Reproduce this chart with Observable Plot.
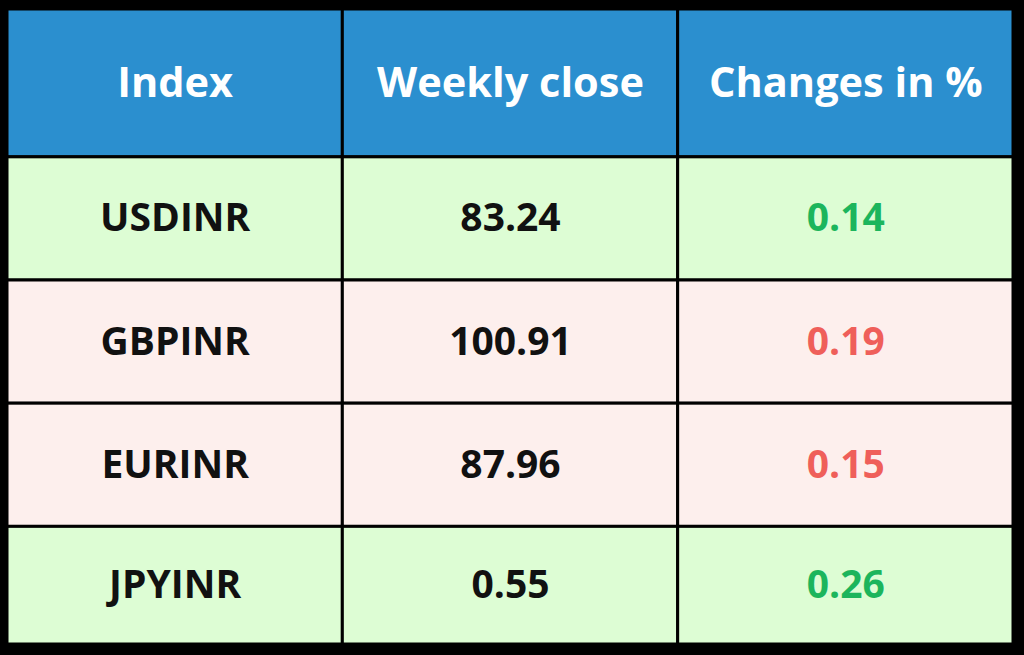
<!DOCTYPE html>
<html><head><meta charset="utf-8">
<script src="https://cdn.jsdelivr.net/npm/d3@7"></script>
<script src="https://cdn.jsdelivr.net/npm/@observablehq/plot@0.6"></script>
<style>html,body{margin:0;padding:0;background:#000;overflow:hidden} svg{display:block}</style>
</head><body><div id="chart"></div><script>
// ---- data ----
const headers = ["Index", "Weekly close", "Changes in %"];
const pairs = ["USDINR", "GBPINR", "EURINR", "JPYINR"];
const weeklyClose = ["83.24", "100.91", "87.96", "0.55"];
const changes = ["0.14", "0.19", "0.15", "0.26"];
const direction = ["up", "down", "down", "up"];

// ---- styles ----
const rowSpans = [1.2, 1, 1, 1, 0.955]; // header + body rows, relative heights
const bg = {header: "#2b8fcf", up: "#ddfdd4", down: "#fdefed"};
const fg = {header: "#ffffff", label: "#111111", up: "#1cb55c", down: "#ef5f5a"};
const headerSize = 41.5, bodySize = 39;

// ---- build table ----
const edges = [0];
rowSpans.forEach(s => edges.push(edges[edges.length - 1] + s));
const cells = [];
const headTexts = [];
const bodyTexts = [];
headers.forEach((h, c) => {
  cells.push({x1: c, x2: c + 1, y1: edges[0], y2: edges[1], fill: bg.header});
  headTexts.push({x: c + 0.5, y: (edges[0] + edges[1]) / 2, text: h, color: fg.header});
});
pairs.forEach((p, i) => {
  const y1 = edges[i + 1], y2 = edges[i + 2], ym = (y1 + y2) / 2;
  const row = [p, weeklyClose[i], changes[i]];
  row.forEach((v, c) => {
    cells.push({x1: c, x2: c + 1, y1, y2, fill: bg[direction[i]]});
    bodyTexts.push({x: c + 0.5, y: ym, text: v, color: c === 2 ? fg[direction[i]] : fg.label});
  });
});

const chart = Plot.plot({
  width: 1024,
  height: 655,
  marginLeft: 7,
  marginRight: 11,
  marginTop: 9,
  marginBottom: 11,
  style: {background: "#000", fontFamily: "'Open Sans', sans-serif"},
  x: {domain: [0, headers.length], axis: null},
  y: {domain: [0, edges[edges.length - 1]], reverse: true, axis: null},
  color: {type: "identity"},
  marks: [
    Plot.rect(cells, {x1: "x1", x2: "x2", y1: "y1", y2: "y2", fill: "fill", stroke: "#000", strokeWidth: 3}),
    Plot.text(headTexts, {x: "x", y: "y", text: "text", fill: "color", fontSize: headerSize, fontWeight: "bold"}),
    Plot.text(bodyTexts, {x: "x", y: "y", text: "text", fill: "color", fontSize: bodySize, fontWeight: "bold"})
  ]
});
document.getElementById("chart").appendChild(chart);
</script></body></html>
